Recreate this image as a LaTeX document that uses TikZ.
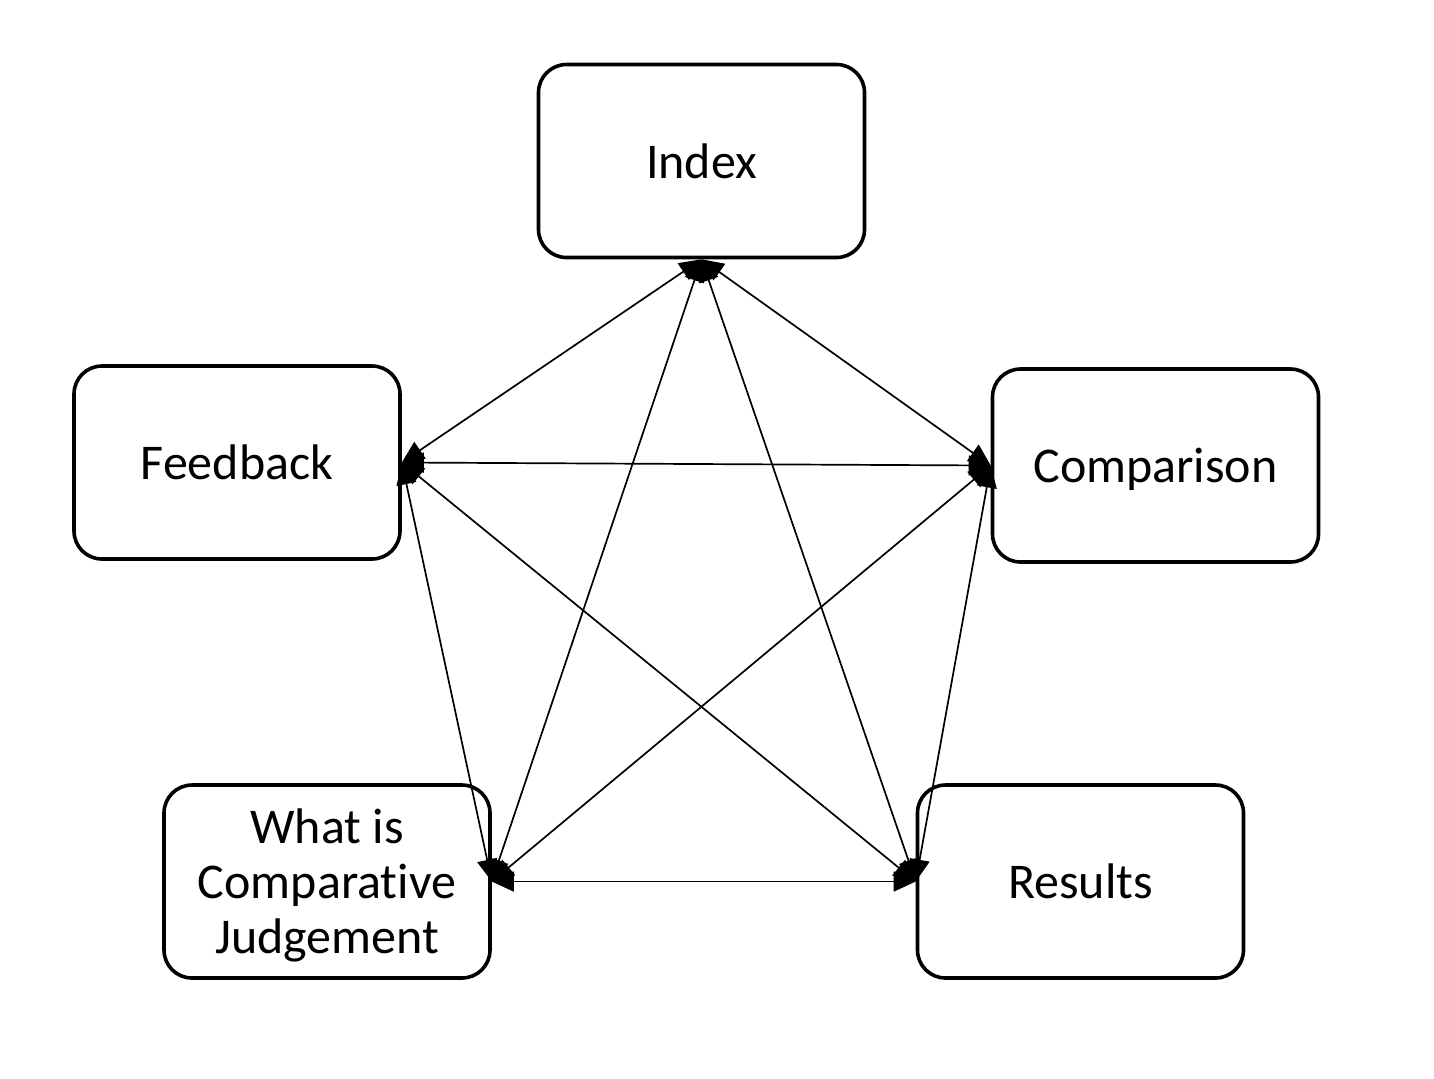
\documentclass[tikz,border=0pt]{standalone}
\usepackage{fontspec}
\setmainfont[Ligatures=NoCommon]{Carlito}
\usepackage{tikz}
\usetikzlibrary{positioning, arrows.meta}

\begin{document}
\begin{tikzpicture}[
    x=0.5pt, y=-0.5pt,
    topic/.style={rectangle, rounded corners=14pt, draw=black, line width=1.8pt, fill=white,
        minimum width=163pt, minimum height=96.5pt, align=center, text depth=0pt,
        font=\fontsize{25}{27.5}\selectfont},
    link/.style={{Triangle[length=11pt, width=10pt]}-{Triangle[length=11pt, width=10pt]}, line width=0.85pt}
]
    \useasboundingbox (0,0) rectangle (1434,1078);

    % Topics
    \node[topic] (index) at (701.5, 161) {Index};
    \node[topic] (feedback) at (237, 462.5) {Feedback};
    \node[topic] (comparison) at (1155.5, 465.5) {Comparison};
    \node[topic] (whatis) at (327, 881.5) {What is\\Comparative\\Judgement};
    \node[topic] (results) at (1080.5, 881.5) {Results};

    % Links between every pair
    \foreach \a/\b in {index.south/feedback.east, index.south/comparison.west,
                       index.south/whatis.east, index.south/results.west,
                       feedback.east/comparison.west, feedback.east/whatis.east,
                       feedback.east/results.west, comparison.west/whatis.east,
                       comparison.west/results.west, whatis.east/results.west} {
        \draw[link] (\a) -- (\b);
    }
\end{tikzpicture}
\end{document}
